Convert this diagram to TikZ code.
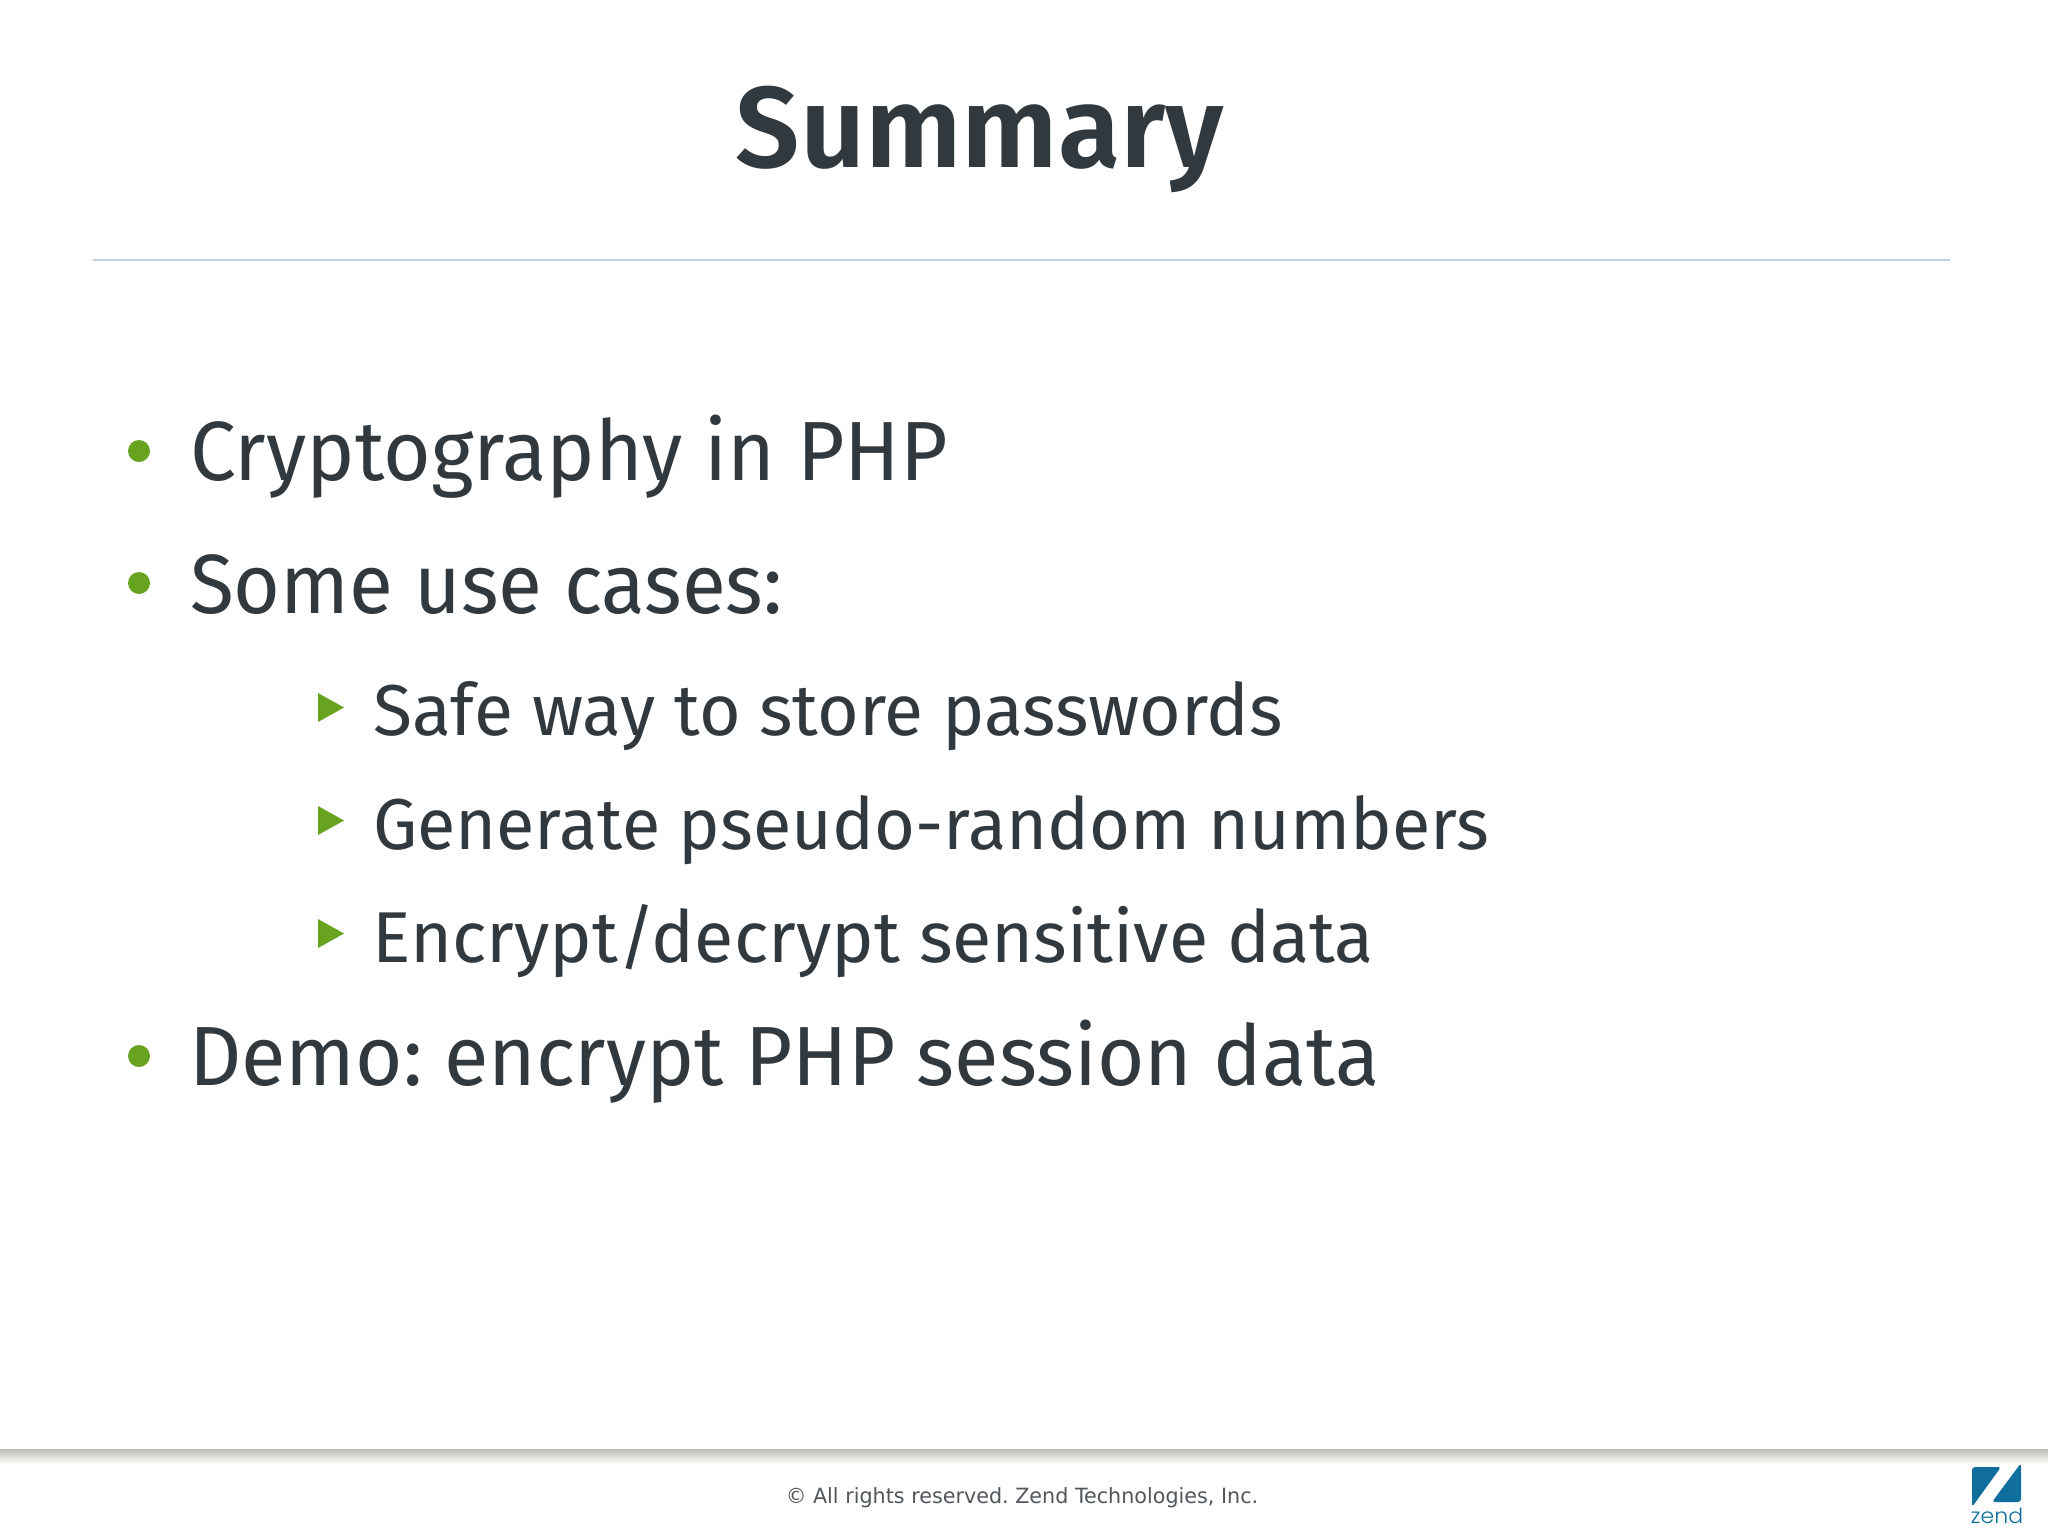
\documentclass[tikz,border=0pt]{standalone}
\usepackage{fontspec}
\setmainfont{Fira Sans}
\newfontfamily\titlefont{Fira Sans SemiBold}
\newfontfamily\footfont{DejaVu Sans}
\newfontfamily\logofont{Poppins Light}
\frenchspacing
\usetikzlibrary{shapes.geometric}
\definecolor{ink}{HTML}{32393E}
\definecolor{leaf}{HTML}{67A31F}
\definecolor{rulec}{HTML}{BFD0E0}
\definecolor{zendc}{HTML}{0F6E9B}
\definecolor{shadowc}{HTML}{BDBCB4}
\tikzset{
  x=1pt,y=-1pt,
  txt/.style={anchor=base west,inner sep=0pt,text=ink,transform shape},
  lone/.style={txt,font=\fontsize{84}{90}\selectfont},
  ltwo/.style={txt,font=\fontsize{72}{80}\selectfont},
  dot/.style={circle,fill=leaf,minimum size=22pt,inner sep=0pt},
  tri/.style={fill=leaf},
}
\begin{document}
\begin{tikzpicture}
\useasboundingbox (0,0) rectangle (2048,1535);
\fill[white] (0,0) rectangle (2048,1535);
\node[txt,anchor=base,xscale=0.99,font=\titlefont\fontsize{115}{120}\selectfont] (title) at (980,167) {Summary};
\draw[rulec,line width=1.5pt] (93,260) -- (1950,260);
\node[dot] (b1) at (139,451) {};
\node[lone,xscale=0.973] (t1) at (190,480) {Cryptography in PHP};
\node[dot] (b2) at (139,583) {};
\node[lone,xscale=0.956] (t2) at (190,613) {Some use cases:};
\fill[tri] (318,693) -- (344,707.5) -- (318,722) -- cycle;
\node[ltwo,xscale=0.992] (s1) at (373,735) {Safe way to store passwords};
\fill[tri] (318,806) -- (344,820.5) -- (318,835) -- cycle;
\node[ltwo,xscale=0.974] (s2) at (373,849) {Generate pseudo-random numbers};
\fill[tri] (318,919) -- (344,933.5) -- (318,948) -- cycle;
\node[ltwo,xscale=0.998] (s3) at (372,962) {Encrypt/decrypt sensitive data};
\node[dot] (b3) at (139,1056) {};
\node[lone,xscale=0.968] (t3) at (189,1085) {Demo: encrypt PHP session data};
\shade[top color=shadowc,bottom color=white] (0,1449) rectangle (2048,1464);
\node[txt,anchor=base,xscale=0.985,text=ink!85,font=\footfont\fontsize{21}{24}\selectfont] (foot) at (1022,1503) {© All rights reserved. Zend Technologies, Inc.};
\fill[zendc,rounded corners=3pt] (1972,1467) -- (2001,1467) -- (1972,1507) -- cycle;
\fill[zendc,rounded corners=3pt] (2021,1463) -- (2021,1502) -- (1992,1502) -- cycle;
\node[anchor=base,inner sep=0pt,text=zendc,transform shape,xscale=1.05,font=\logofont\fontsize{21}{22}\selectfont] (zend) at (1997,1523) {zend};
\end{tikzpicture}
\end{document}
